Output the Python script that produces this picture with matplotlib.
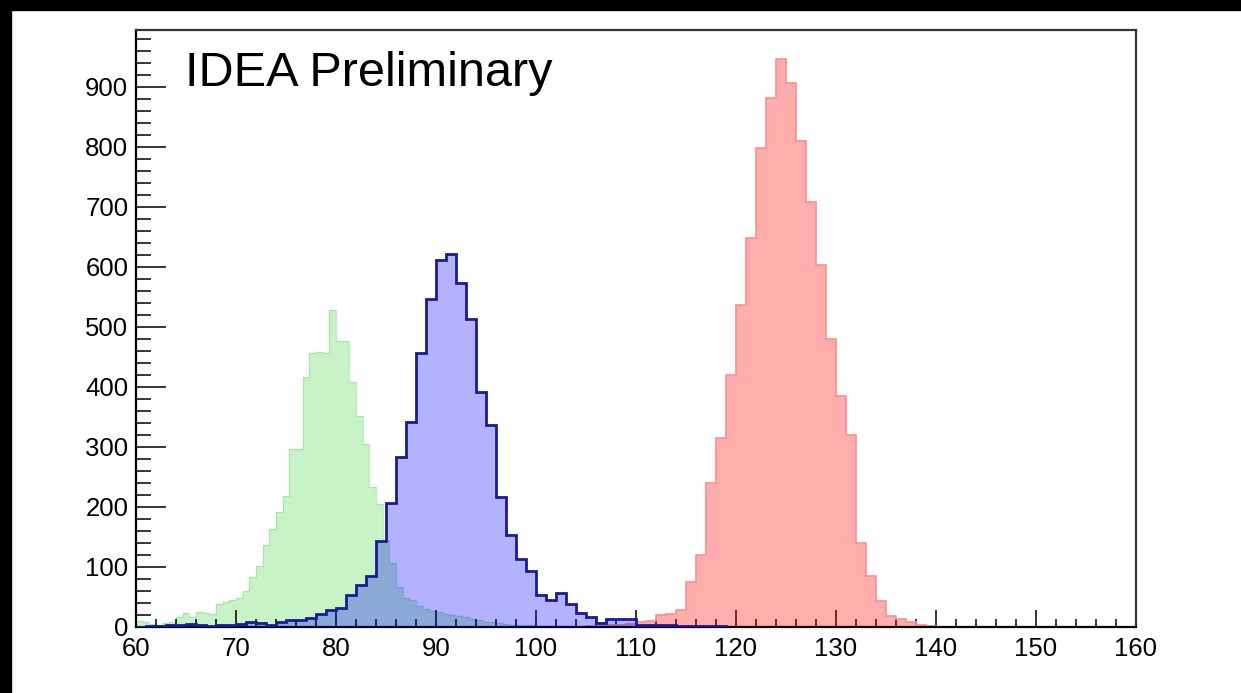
import numpy as np
import matplotlib
matplotlib.use("Agg")
import matplotlib.pyplot as plt
from matplotlib.patches import Rectangle
from matplotlib.ticker import MultipleLocator

plt.rcParams['font.family'] = ['Liberation Sans', 'DejaVu Sans']

# green: 150 bins of 2/3 between 60 and 160 (only the filled part is listed)
green_counts = [10, 8, 5, 3, 6, 9, 16, 23, 17, 25, 24, 21, 39, 41, 45, 48, 60, 84, 101,
                137, 163, 192, 218, 296, 296, 416, 456, 459, 456, 529, 477, 477, 408,
                351, 305, 234, 205, 145, 107, 66, 48, 45, 35, 30, 27, 25, 22, 20, 18,
                16, 13, 11, 9, 8, 6, 5, 4, 4, 3, 3, 2, 2, 2, 1, 1, 1]
green_nbins = 150

# blue: 1-wide bins starting at 60
blue_counts = [0, 1, 2, 3, 3, 5, 3, 2, 3, 3, 5, 8, 6, 4, 9, 12, 12, 15, 21, 28,
               31, 54, 70, 85, 144, 206, 284, 342, 456, 546, 611, 622, 573, 513, 392, 336,
               217, 154, 114, 94, 54, 45, 56, 38, 24, 17, 6, 13, 13, 13, 4, 4, 3, 3, 2,
               2, 1, 1, 1]

# red: 1-wide bins starting at 105
red_start = 105
red_counts = [1, 2, 3, 4, 5, 8, 10, 20, 22, 28, 75, 120, 240, 315, 420, 537, 648, 799,
              881, 947, 907, 810, 708, 603, 480, 385, 320, 140, 85, 43, 18, 13, 8, 4, 1]

xmin, xmax = 60, 160
ymax = 995

fig = plt.figure(figsize=(12.41, 6.93), dpi=100)
fig.patch.set_facecolor('white')
# black frame strips from the screenshot
fig.patches.append(Rectangle((0, 1 - 9.5 / 693), 1, 9.5 / 693, transform=fig.transFigure,
                             color='black', zorder=-1))
fig.patches.append(Rectangle((0, 0), 11 / 1241, 1, transform=fig.transFigure,
                             color='black', zorder=-1))

ax = fig.add_axes([136 / 1241, 66 / 693, 1000 / 1241, 597 / 693])

g = np.zeros(green_nbins)
g[:len(green_counts)] = green_counts
g_edges = np.linspace(xmin, xmax, green_nbins + 1)
ax.stairs(g, g_edges, fill=True, facecolor=(0.0, 0.8, 0.0, 0.22), edgecolor='none', zorder=1)
ax.stairs(g, g_edges, color=(0.55, 0.85, 0.55), lw=1.0, alpha=0.5, zorder=1)

r_edges = np.arange(red_start, red_start + len(red_counts) + 1)
ax.stairs(red_counts, r_edges, fill=True, facecolor=(1.0, 0.0, 0.0, 0.32), edgecolor='none', zorder=2)
ax.stairs(red_counts, r_edges, color=(1.0, 0.55, 0.55), lw=1.2, zorder=2)

b_edges = np.arange(xmin, xmin + len(blue_counts) + 1)
ax.stairs(blue_counts, b_edges, fill=True, facecolor=(0.0, 0.0, 1.0, 0.3), edgecolor='none', zorder=3)
ax.stairs(blue_counts, b_edges, color='#1a1a96', lw=2.0, zorder=4)

ax.set_xlim(xmin, xmax)
ax.set_ylim(0, ymax)

ax.xaxis.set_major_locator(MultipleLocator(10))
ax.xaxis.set_minor_locator(MultipleLocator(2))
ax.yaxis.set_major_locator(MultipleLocator(100))
ax.yaxis.set_minor_locator(MultipleLocator(20))

ax.tick_params(axis='y', which='major', direction='in', length=21.6, width=1.1,
               labelsize=18.5, pad=5.5, right=False)
ax.tick_params(axis='y', which='minor', direction='in', length=10.8, width=1.1, right=False)
ax.tick_params(axis='x', which='major', direction='in', length=12.2, width=1.1,
               labelsize=18.5, pad=7, top=False)
ax.tick_params(axis='x', which='minor', direction='in', length=5.8, width=1.1, top=False)

for side in ['left', 'bottom']:
    ax.spines[side].set_linewidth(1.6)
    ax.spines[side].set_color('black')
for side in ['top', 'right']:
    ax.spines[side].set_linewidth(1.6)
    ax.spines[side].set_color('#333333')

ax.text(0.049, 0.906, 'IDEA Preliminary', transform=ax.transAxes, fontsize=35,
        ha='left', va='baseline', color='black')

fig.savefig('out.png', dpi=100)
